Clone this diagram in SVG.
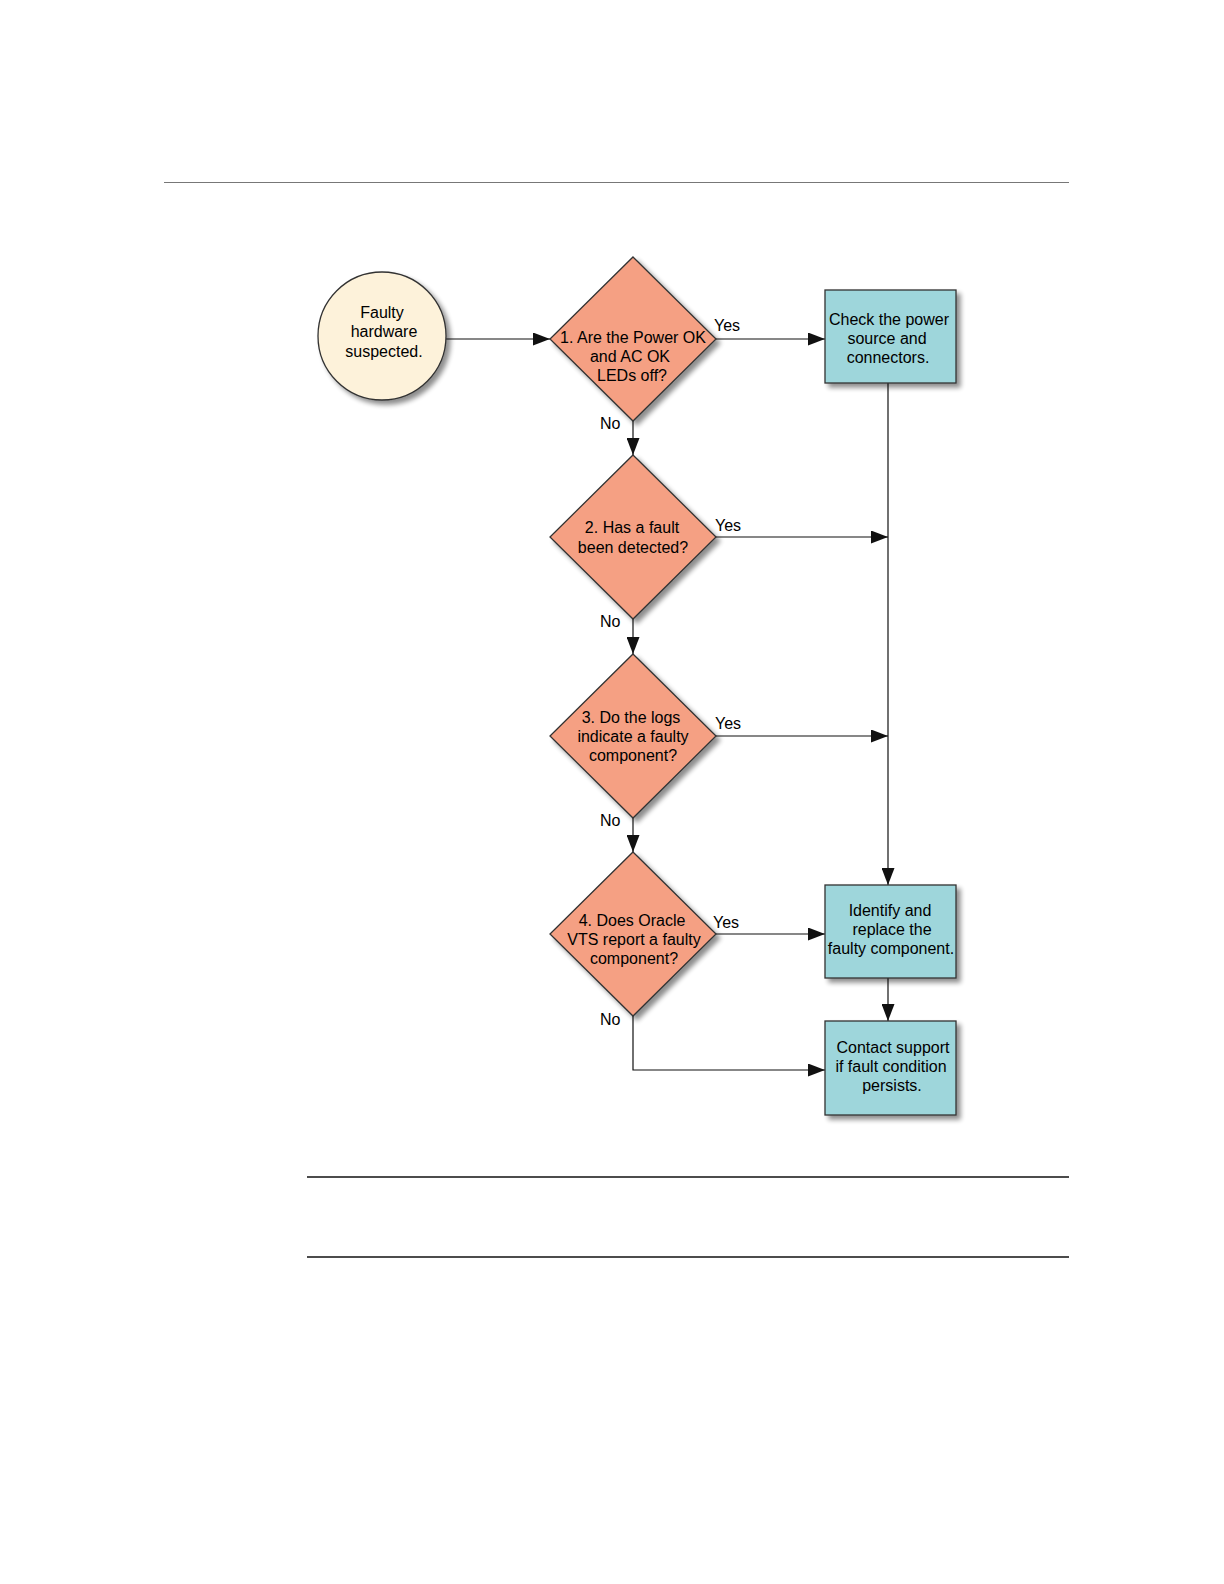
<svg xmlns="http://www.w3.org/2000/svg" width="1224" height="1584" viewBox="0 0 1224 1584">
<style>
text{font-family:"Liberation Sans",Arial,sans-serif;font-size:16px;fill:#000;text-anchor:middle}
.lbl{text-anchor:start}
.node{stroke:#333;stroke-width:1.3}
.dia{fill:#F5A083}
.box{fill:#9ED6DB}
.circ{fill:#FDF2DA}
.c{stroke:#111;stroke-width:1.2;fill:none}
</style>
<defs>
<filter id="sh" x="-20%" y="-20%" width="150%" height="150%">
<feGaussianBlur in="SourceAlpha" stdDeviation="2.5"/>
<feOffset dx="4" dy="4" result="b"/>
<feComponentTransfer><feFuncA type="linear" slope="0.45"/></feComponentTransfer>
<feMerge><feMergeNode/><feMergeNode in="SourceGraphic"/></feMerge>
</filter>
<marker id="arb" viewBox="0 0 17 13" refX="17" refY="6.5" markerWidth="17" markerHeight="13" markerUnits="userSpaceOnUse" orient="auto">
<path d="M0,0 L17,6.5 L0,13 z" fill="#111"/>
</marker>
</defs>
<g id="rules">
<line x1="164" y1="182.5" x2="1069" y2="182.5" stroke="#777" stroke-width="1"/>
<line x1="307" y1="1177" x2="1069" y2="1177" stroke="#111" stroke-width="1.5"/>
<line x1="307" y1="1257" x2="1069" y2="1257" stroke="#111" stroke-width="1.5"/>
</g>
<g id="connectors">
<line class="c" x1="446" y1="339" x2="550" y2="339" marker-end="url(#arb)"/>
<line class="c" x1="716" y1="339" x2="825" y2="339" marker-end="url(#arb)"/>
<line class="c" x1="633" y1="421" x2="633" y2="455" marker-end="url(#arb)"/>
<line class="c" x1="716" y1="537" x2="888" y2="537" marker-end="url(#arb)"/>
<line class="c" x1="633" y1="619" x2="633" y2="654" marker-end="url(#arb)"/>
<line class="c" x1="716" y1="736" x2="888" y2="736" marker-end="url(#arb)"/>
<line class="c" x1="633" y1="818" x2="633" y2="852" marker-end="url(#arb)"/>
<line class="c" x1="888" y1="383" x2="888" y2="885" marker-end="url(#arb)"/>
<line class="c" x1="716" y1="934" x2="825" y2="934" marker-end="url(#arb)"/>
<line class="c" x1="888" y1="978" x2="888" y2="1021" marker-end="url(#arb)"/>
<polyline class="c" points="633,1016 633,1070 825,1070" marker-end="url(#arb)"/>
<text class="lbl" x="714" y="331">Yes</text>
<text class="lbl" x="715" y="531">Yes</text>
<text class="lbl" x="715" y="729">Yes</text>
<text class="lbl" x="713" y="928">Yes</text>
<text class="lbl" x="600" y="429">No</text>
<text class="lbl" x="600" y="627">No</text>
<text class="lbl" x="600" y="826">No</text>
<text class="lbl" x="600" y="1025">No</text>
</g>
<g id="start">
<circle class="node circ" cx="382" cy="336" r="64" filter="url(#sh)"/>
<text x="382" y="318">Faulty</text>
<text x="384" y="337">hardware</text>
<text x="384" y="357">suspected.</text>
</g>
<g id="q1">
<polygon class="node dia" points="633,257 716,339 633,421 550,339" filter="url(#sh)"/>
<text x="633" y="343">1. Are the Power OK</text>
<text x="630" y="362">and AC OK</text>
<text x="632" y="381">LEDs off?</text>
</g>
<g id="q2">
<polygon class="node dia" points="633,455 716,537 633,619 550,537" filter="url(#sh)"/>
<text x="632" y="533">2. Has a fault</text>
<text x="633" y="553">been detected?</text>
</g>
<g id="q3">
<polygon class="node dia" points="633,654 716,736 633,818 550,736" filter="url(#sh)"/>
<text x="631" y="723">3. Do the logs</text>
<text x="633" y="742">indicate a faulty</text>
<text x="633" y="761">component?</text>
</g>
<g id="q4">
<polygon class="node dia" points="633,852 716,934 633,1016 550,934" filter="url(#sh)"/>
<text x="632" y="926">4. Does Oracle</text>
<text x="634" y="945">VTS report a faulty</text>
<text x="634" y="964">component?</text>
</g>
<g id="check">
<rect class="node box" x="825" y="290" width="131" height="93" filter="url(#sh)"/>
<text x="889" y="325">Check the power</text>
<text x="887" y="344">source and</text>
<text x="888" y="363">connectors.</text>
</g>
<g id="replace">
<rect class="node box" x="825" y="885" width="131" height="93" filter="url(#sh)"/>
<text x="890" y="916">Identify and</text>
<text x="892" y="935">replace the</text>
<text x="891" y="954">faulty component.</text>
</g>
<g id="contact">
<rect class="node box" x="825" y="1021" width="131" height="94" filter="url(#sh)"/>
<text x="893" y="1053">Contact support</text>
<text x="891" y="1072">if fault condition</text>
<text x="892" y="1091">persists.</text>
</g>
</svg>
